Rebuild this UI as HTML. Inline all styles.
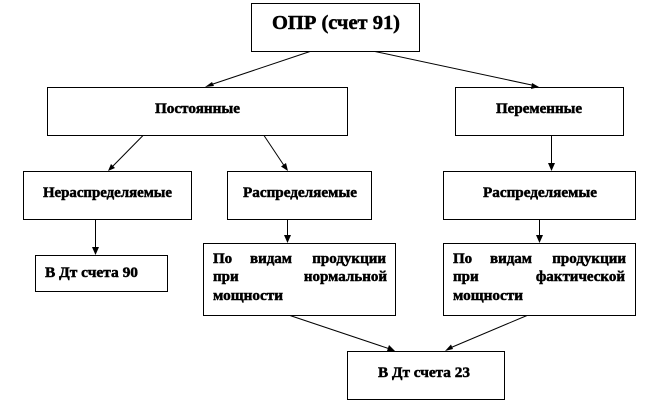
<!DOCTYPE html>
<html><head><meta charset="utf-8">
<style>
html,body{margin:0;padding:0;background:#fff;width:672px;height:402px;overflow:hidden}
svg{display:block}
text{font-family:"Liberation Serif","Noto Serif CJK SC",serif;font-weight:bold;fill:#000;stroke:#000;stroke-width:.5px;font-size:15px}
.c{text-anchor:middle}
.e{text-anchor:end}
rect{fill:#fff;stroke:#000;stroke-width:1}
line{stroke:#000;stroke-width:1}
polygon{fill:#000}
</style></head><body>
<svg width="672" height="402" viewBox="0 0 672 402" xmlns="http://www.w3.org/2000/svg">
<rect x="251.5" y="3.5" width="168" height="48"/>
<rect x="47.5" y="87.5" width="300" height="48"/>
<rect x="455.5" y="87.5" width="168" height="48"/>
<rect x="23.5" y="171.5" width="168" height="48"/>
<rect x="227.5" y="171.5" width="144" height="48"/>
<rect x="443.5" y="171.5" width="192" height="48"/>
<rect x="35.5" y="255.5" width="132" height="36"/>
<rect x="203.5" y="243.5" width="192" height="72"/>
<rect x="443.5" y="243.5" width="192" height="72"/>
<rect x="347.5" y="351.5" width="157" height="48"/>

<line x1="310" y1="51.5" x2="210" y2="85"/><polygon points="205,87 212,82 214,86"/>
<line x1="375" y1="51.5" x2="534" y2="85.5"/><polygon points="539,87 531,89 532,83"/>
<line x1="143" y1="135.5" x2="112" y2="167"/><polygon points="108,171 111,164 115,168"/>
<line x1="264" y1="135.5" x2="285" y2="167"/><polygon points="288,171 281,166.5 286,163"/>
<line x1="551.5" y1="135.5" x2="551.5" y2="165"/><polygon points="551.5,171 548,163 555,163"/>
<line x1="95.5" y1="219.5" x2="95.5" y2="249"/><polygon points="95.5,255 92,247 99,247"/>
<line x1="287.5" y1="219.5" x2="287.5" y2="237"/><polygon points="287.5,243 284,235 291,235"/>
<line x1="539.5" y1="219.5" x2="539.5" y2="237"/><polygon points="539.5,243 536,235 543,235"/>
<line x1="290" y1="315.5" x2="390" y2="349"/><polygon points="395,351 387,351 389,345"/>
<line x1="527" y1="315.5" x2="450" y2="348"/><polygon points="445,351 451,344.5 453,349"/>

<text x="272" y="29" textLength="128" lengthAdjust="spacingAndGlyphs" style="font-size:20px;stroke-width:.5px">ОПР (счет 91)</text>
<text x="155" y="113" textLength="85" lengthAdjust="spacingAndGlyphs">Постоянные</text>
<text x="496" y="113" textLength="86" lengthAdjust="spacingAndGlyphs">Переменные</text>
<text x="43" y="197" textLength="129" lengthAdjust="spacingAndGlyphs">Нераспределяемые</text>
<text x="243" y="197" textLength="114" lengthAdjust="spacingAndGlyphs">Распределяемые</text>
<text x="483" y="197" textLength="114" lengthAdjust="spacingAndGlyphs">Распределяемые</text>
<text x="45" y="277" textLength="93" lengthAdjust="spacingAndGlyphs">В Дт счета 90</text>
<text x="378" y="377" textLength="92" lengthAdjust="spacingAndGlyphs">В Дт счета 23</text>

<text x="213" y="263">По</text><text class="c" x="271" y="263">видам</text><text class="e" x="386" y="263">продукции</text>
<text x="213" y="281">при</text><text class="e" x="387" y="281">нормальной</text>
<text x="213" y="300" textLength="70" lengthAdjust="spacingAndGlyphs">мощности</text>

<text x="453" y="263">По</text><text class="c" x="511" y="263">видам</text><text class="e" x="626" y="263">продукции</text>
<text x="453" y="281">при</text><text class="e" x="625" y="281">фактической</text>
<text x="453" y="300" textLength="70" lengthAdjust="spacingAndGlyphs">мощности</text>
</svg>
</body></html>
